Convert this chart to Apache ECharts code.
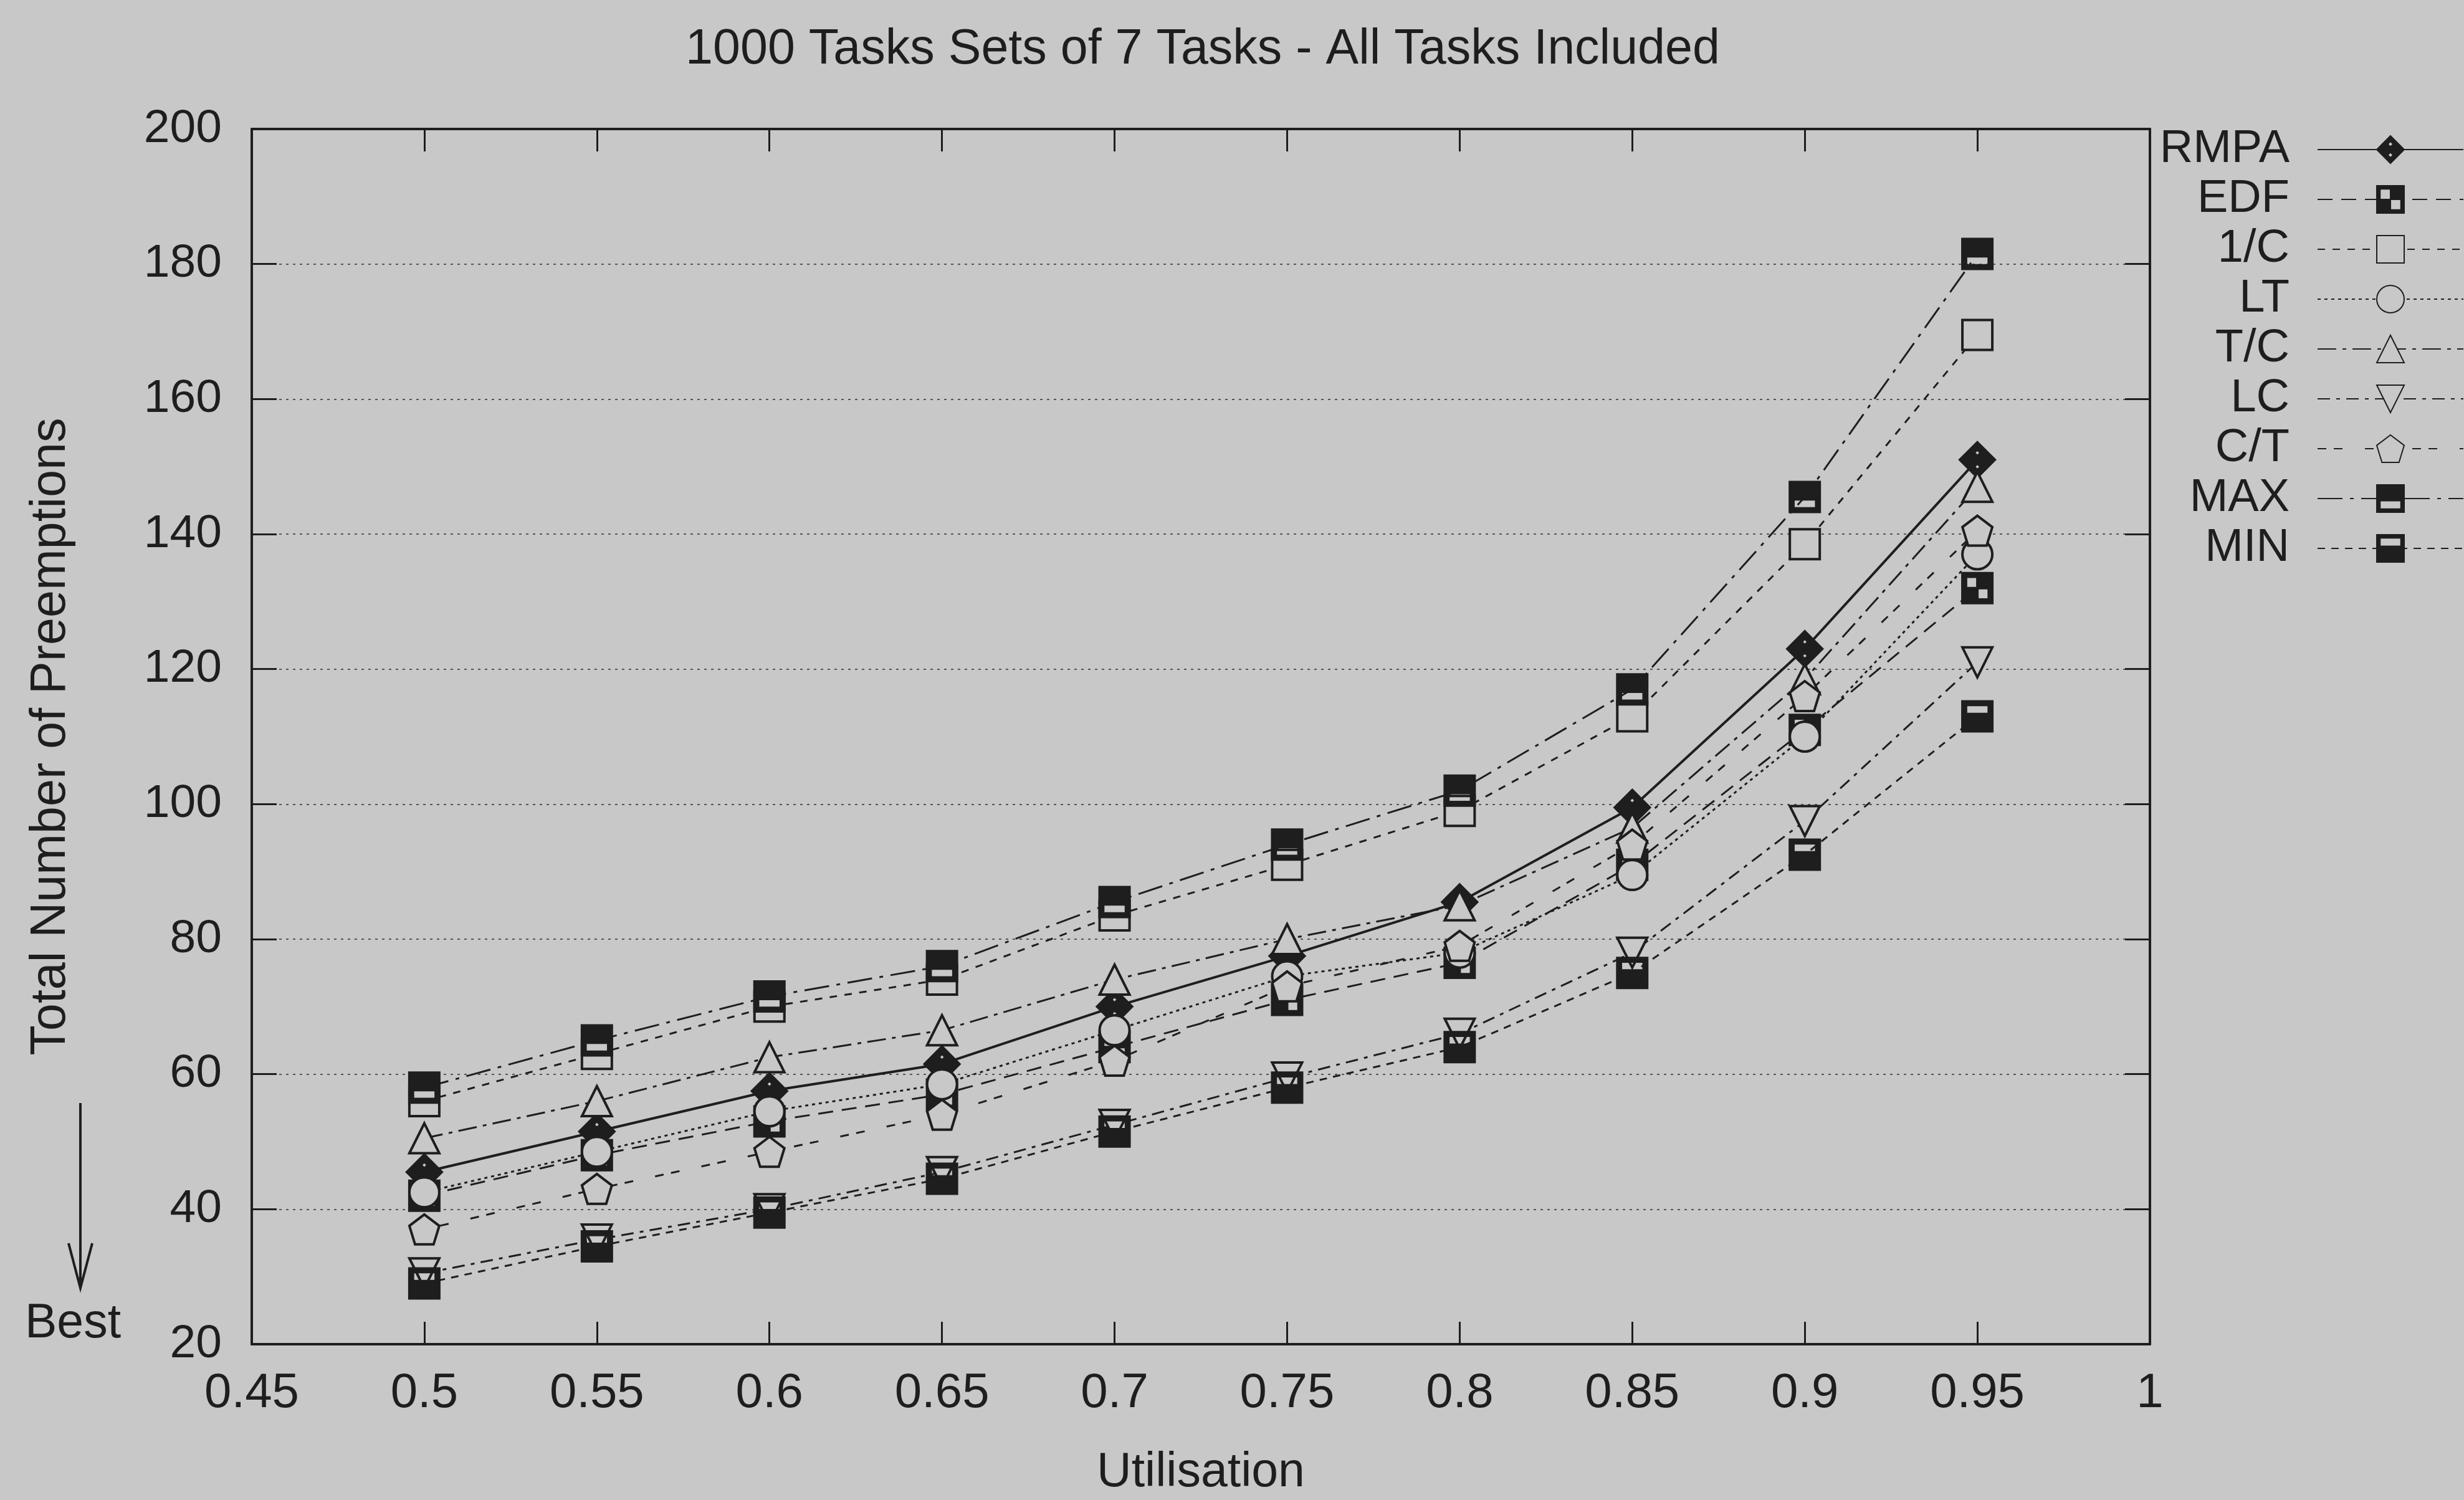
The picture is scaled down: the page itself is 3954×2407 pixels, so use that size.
<!DOCTYPE html>
<html>
<head>
<meta charset="utf-8">
<script src="https://cdn.jsdelivr.net/npm/echarts@6/dist/echarts.min.js"></script>
<style>
html,body{margin:0;padding:0;background:#c8c8c8;}
#chart{width:3954px;height:2407px;}
</style>
</head>
<body>
<div id="chart"></div>
<script>
// ---- data ----
const utilisation = [0.5, 0.55, 0.6, 0.65, 0.7, 0.75, 0.8, 0.85, 0.9, 0.95];
const seriesNames = ['RMPA', 'EDF', '1/C', 'LT', 'T/C', 'LC', 'C/T', 'MAX', 'MIN'];
const rmpa = [45.5, 51.5, 57.5, 61.5, 70, 77.5, 85.5, 99.5, 123, 151];
const edf  = [42, 48, 53, 57, 64, 71, 76.5, 91, 111, 132];
const invC = [56, 63, 70, 74, 83.5, 91, 99, 113, 138.5, 169.5];
const lt   = [42.5, 48.5, 54.5, 58.5, 66.5, 74.5, 78, 89.5, 110, 137];
const tOverC = [50.5, 56, 62.5, 66.5, 74, 80, 85, 96.5, 118.5, 147];
const lc   = [30.5, 35.5, 40, 45.5, 52.5, 59.5, 66, 78, 97.5, 121];
const cOverT = [37, 43, 48.5, 54, 62, 73, 79, 94, 116, 140.5];
const maxS = [58, 65, 71.5, 76, 85.5, 94, 102, 117, 145.5, 181.5];
const minS = [29, 34.5, 39.5, 44.5, 51.5, 58, 64, 75, 92.5, 113];
const yTicks = [20, 40, 60, 80, 100, 120, 140, 160, 180, 200];
const xTicks = [0.45, 0.5, 0.55, 0.6, 0.65, 0.7, 0.75, 0.8, 0.85, 0.9, 0.95, 1];

const BG = '#c8c8c8';
const INK = '#1e1e1e';
const FONT = '"Liberation Sans", Arial, Helvetica, sans-serif';

const symbols = {
  diamondDots: 'path://M50,0 L100,50 L50,100 L0,50 Z M50,20 L40,30 L50,40 L60,30 Z M50,60 L40,70 L50,80 L60,70 Z',
  checker: 'path://M0,0 L100,0 L100,100 L0,100 Z M12,12 L12,50 L50,50 L50,12 Z M50,50 L50,88 L88,88 L88,50 Z',
  pentagon: 'path://M50,0 L100,38 L81,100 L19,100 L0,38 Z',
  maxBox: 'path://M0,0 L100,0 L100,100 L0,100 Z M12,58 L12,88 L88,88 L88,58 Z',
  minBox: 'path://M0,0 L100,0 L100,100 L0,100 Z M12,12 L12,42 L88,42 L88,12 Z'
};

function mk(name, vals, symbol, filled, dash, extra) {
  const s = {
    name: name,
    type: 'line',
    data: utilisation.map((u, i) => [u, vals[i]]),
    symbol: symbol,
    symbolSize: 48,
    showAllSymbol: true,
    lineStyle: { color: INK, width: 3, type: dash },
    itemStyle: { color: filled ? INK : BG, borderColor: INK, borderWidth: 4 },
    emphasis: { disabled: true },
    animation: false,
    z: 3
  };
  return Object.assign(s, extra || {});
}

const series = [
  mk('RMPA', rmpa, symbols.diamondDots, true, 'solid', { lineStyle: { color: INK, width: 4, type: 'solid' }, symbolSize: 56 }),
  mk('EDF', edf, symbols.checker, true, [24, 14]),
  mk('1/C', invC, 'rect', false, [12, 12]),
  mk('LT', lt, 'circle', false, [5, 6]),
  mk('T/C', tOverC, 'triangle', false, [30, 10, 6, 10]),
  mk('LC', lc, 'triangle', false, [20, 10, 6, 10], { symbolRotate: 180 }),
  mk('C/T', cOverT, symbols.pentagon, false, [14, 12, 14, 36]),
  mk('MAX', maxS, symbols.maxBox, true, [40, 12, 6, 12]),
  mk('MIN', minS, symbols.minBox, true, [12, 10])
];

const axisLineStyle = { color: INK, width: 4 };
const tickStyle = { color: INK, width: 3 };

const option = {
  backgroundColor: BG,
  animation: false,
  textStyle: { fontFamily: FONT, color: INK },
  title: {
    text: '1000 Tasks Sets of 7 Tasks - All Tasks Included',
    left: 1925, top: 36, textAlign: 'center',
    textStyle: { fontFamily: FONT, fontSize: 79, fontWeight: 'normal', color: INK }
  },
  legend: {
    data: seriesNames,
    orient: 'vertical',
    right: 0, top: 203, padding: 0,
    align: 'right',
    itemWidth: 234, itemHeight: 55, itemGap: 6,
    textStyle: { fontFamily: FONT, fontSize: 74, color: INK, lineHeight: 70, padding: [0, 40, 0, 0] },
    selectedMode: false
  },
  grid: { left: 404, right: 504, top: 207, bottom: 247, containLabel: false },
  xAxis: [
    {
      type: 'value', position: 'bottom',
      min: xTicks[0], max: xTicks[xTicks.length - 1], interval: 0.05,
      name: 'Utilisation', nameLocation: 'middle', nameGap: 168,
      nameTextStyle: { fontFamily: FONT, fontSize: 77, color: INK },
      axisLine: { show: true, lineStyle: axisLineStyle },
      axisTick: { show: true, inside: true, length: 36, lineStyle: tickStyle },
      axisLabel: { fontFamily: FONT, fontSize: 78, color: INK, margin: 40 },
      splitLine: { show: false }
    },
    {
      type: 'value', position: 'top',
      min: xTicks[0], max: xTicks[xTicks.length - 1], interval: 0.05,
      axisLine: { show: true, lineStyle: axisLineStyle },
      axisTick: { show: true, inside: true, length: 36, lineStyle: tickStyle },
      axisLabel: { show: false },
      splitLine: { show: false }
    }
  ],
  yAxis: [
    {
      type: 'value', position: 'left',
      min: yTicks[0], max: yTicks[yTicks.length - 1], interval: 20,
      name: 'Total Number of Preemptions', nameLocation: 'middle', nameGap: 282,
      nameTextStyle: { fontFamily: FONT, fontSize: 79, color: INK },
      axisLine: { show: true, lineStyle: axisLineStyle },
      axisTick: { show: true, inside: true, length: 40, lineStyle: tickStyle },
      axisLabel: { fontFamily: FONT, fontSize: 75, color: INK, margin: 48 },
      splitLine: { show: true, lineStyle: { color: '#555', width: 2, type: [4, 7] } }
    },
    {
      type: 'value', position: 'right',
      min: yTicks[0], max: yTicks[yTicks.length - 1], interval: 20,
      axisLine: { show: true, lineStyle: axisLineStyle },
      axisTick: { show: true, inside: true, length: 40, lineStyle: tickStyle },
      axisLabel: { show: false },
      splitLine: { show: false }
    }
  ],
  graphic: [
    { type: 'line', shape: { x1: 129, y1: 1770, x2: 129, y2: 2064 }, style: { stroke: INK, lineWidth: 4 } },
    { type: 'polyline', shape: { points: [[110, 1995], [129, 2067], [148, 1995]] }, style: { stroke: INK, lineWidth: 4, fill: null } },
    { type: 'text', x: 117, y: 2125, style: { text: 'Best', font: '77px ' + FONT, fill: INK, textAlign: 'center', textVerticalAlign: 'middle' } }
  ],
  series: series
};

const chart = echarts.init(document.getElementById('chart'), null, { renderer: 'canvas' });
chart.setOption(option);
</script>
</body>
</html>
